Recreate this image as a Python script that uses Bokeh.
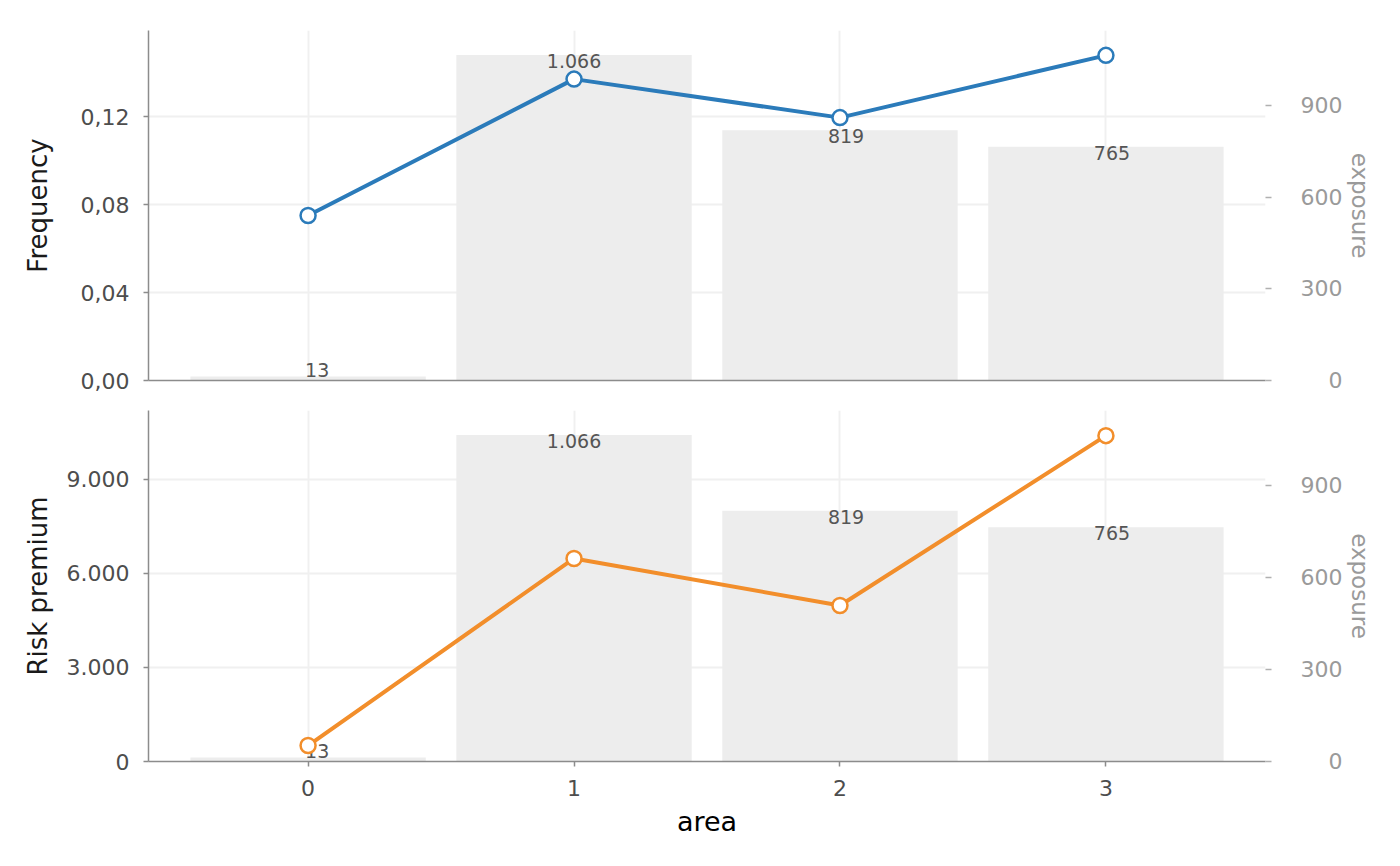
from bokeh.plotting import figure
from bokeh.models import (Range1d, LinearAxis, FixedTicker, ColumnDataSource,
                          CustomJSTickFormatter)
from bokeh.layouts import column
from bokeh.core.properties import value
from bokeh.embed import file_html
from bokeh.resources import INLINE

# ---- data ----
area = [0, 1, 2, 3]
area_labels = ["0", "1", "2", "3"]
exposure = [13, 1066, 819, 765]
frequency = [0.075, 0.137, 0.1195, 0.1478]
risk_premium = [510, 6480, 4980, 10400]

freq_ticks = [0.0, 0.04, 0.08, 0.12]
rp_ticks = [0, 3000, 6000, 9000]
exp_ticks = [0, 300, 600, 900]

FONT = "DejaVu Sans"
BLUE = "#2b7bba"
ORANGE = "#f28e2b"
BAR = "#ededed"
GRID = "#f0f0f0"
AXIS = "#8c8c8c"

exp_labels = [f"{v:,}".replace(",", ".") for v in exposure]
lab_min = 0.05 * max(exposure)
label_y = [max(v, lab_min) for v in exposure]
space_w = 0.318 * 19
x_off = [(5 - len(s)) * space_w / 2 for s in exp_labels]

src = ColumnDataSource(dict(area=area, exposure=exposure, frequency=frequency,
                            risk_premium=risk_premium, label=exp_labels,
                            label_y=label_y, xoff=x_off))

x_range = Range1d(-0.6, 3.6)


def make_panel(ycol, color, y_end, ticks, fmt_js, ylabel, frame_h, top_b, bot_b,
               show_x, title_standoff):
    p = figure(frame_width=1117, frame_height=frame_h, x_range=x_range,
               y_range=Range1d(0, y_end), output_backend="svg",
               toolbar_location=None, min_border_left=148, min_border_right=120,
               min_border_top=top_b, min_border_bottom=bot_b)
    p.outline_line_color = None
    p.background_fill_color = "white"
    p.extra_y_ranges = {"exp": Range1d(0, 1146)}

    p.vbar(x="area", top="exposure", width=0.885, source=src, y_range_name="exp",
           fill_color=BAR, line_color=None)
    p.text(x="area", y="label_y", text="label", source=src, y_range_name="exp",
           text_align="center", text_baseline="top", x_offset="xoff", y_offset=-1,
           text_font=value(FONT), text_font_size="19px", text_color="#555555")
    p.line(x="area", y=ycol, source=src, line_color=color, line_width=4)
    p.scatter(x="area", y=ycol, source=src, size=15, fill_color="white",
              line_color=color, line_width=2.5)

    # grids
    p.xgrid.ticker = FixedTicker(ticks=area)
    p.ygrid.ticker = FixedTicker(ticks=ticks)
    for g in (p.xgrid, p.ygrid):
        g.grid_line_color = GRID
        g.grid_line_width = 2

    # left axis
    ya = p.yaxis[0]
    ya.ticker = FixedTicker(ticks=ticks)
    ya.formatter = CustomJSTickFormatter(code=fmt_js)
    ya.axis_label = ylabel
    ya.axis_label_text_font = FONT
    ya.axis_label_text_font_size = "26px"
    ya.axis_label_text_font_style = "normal"
    ya.axis_label_text_color = "#1a1a1a"
    ya.axis_label_standoff = title_standoff
    ya.major_label_text_font = FONT
    ya.major_label_text_font_size = "22px"
    ya.major_label_text_color = "#4d4d4d"
    ya.major_label_standoff = 14
    ya.axis_line_color = AXIS
    ya.axis_line_width = 1.5
    ya.major_tick_line_color = AXIS
    ya.major_tick_line_width = 1.5
    ya.major_tick_out = 5
    ya.major_tick_in = 0
    ya.minor_tick_line_color = None

    # right axis (exposure)
    ra = LinearAxis(y_range_name="exp", ticker=FixedTicker(ticks=exp_ticks))
    ra.formatter = CustomJSTickFormatter(
        code="return tick.toFixed(0).padStart(3, '\\u2007');")
    ra.axis_label = "exposure"
    ra.axis_label_text_font = FONT
    ra.axis_label_text_font_size = "23px"
    ra.axis_label_text_font_style = "normal"
    ra.axis_label_text_color = "#9a9a9a"
    ra.axis_label_standoff = 2
    ra.major_label_text_font = FONT
    ra.major_label_text_font_size = "22px"
    ra.major_label_text_color = "#9a9a9a"
    ra.major_label_standoff = 29
    ra.axis_line_color = None
    ra.major_tick_line_color = "#b0b0b0"
    ra.major_tick_line_width = 1.5
    ra.major_tick_out = 6
    ra.major_tick_in = 0
    ra.minor_tick_line_color = None
    p.add_layout(ra, "right")

    # bottom axis
    xa = p.xaxis[0]
    xa.axis_line_color = AXIS
    xa.axis_line_width = 1.5
    xa.minor_tick_line_color = None
    if show_x:
        xa.ticker = FixedTicker(ticks=area)
        xa.major_label_overrides = {a: l for a, l in zip(area, area_labels)}
        xa.axis_label = "area"
        xa.axis_label_text_font = FONT
        xa.axis_label_text_font_size = "27px"
        xa.axis_label_text_font_style = "normal"
        xa.axis_label_text_color = "#000000"
        xa.axis_label_standoff = 7
        xa.major_label_text_font = FONT
        xa.major_label_text_font_size = "22px"
        xa.major_label_text_color = "#4d4d4d"
        xa.major_label_standoff = 13
        xa.major_tick_line_color = AXIS
        xa.major_tick_line_width = 1.5
        xa.major_tick_out = 5
        xa.major_tick_in = 0
    else:
        xa.ticker = FixedTicker(ticks=[])
        xa.major_label_standoff = 0
        xa.major_tick_out = 0
        xa.major_tick_in = 0
        xa.major_tick_line_color = None
    return p


p1 = make_panel("frequency", BLUE, 0.1591, freq_ticks,
                "return tick.toFixed(2).replace('.', ',');", "Frequency",
                350, 30, 15, False, 25)
p2 = make_panel("risk_premium", ORANGE, 11202, rp_ticks,
                "return Math.round(tick).toString().replace(/\\B(?=(\\d{3})+(?!\\d))/g, '.');",
                "Risk premium", 351, 15, 70, True, 11)

layout = column(p1, p2, spacing=0)
open("out.html", "w").write(file_html(layout, INLINE))
